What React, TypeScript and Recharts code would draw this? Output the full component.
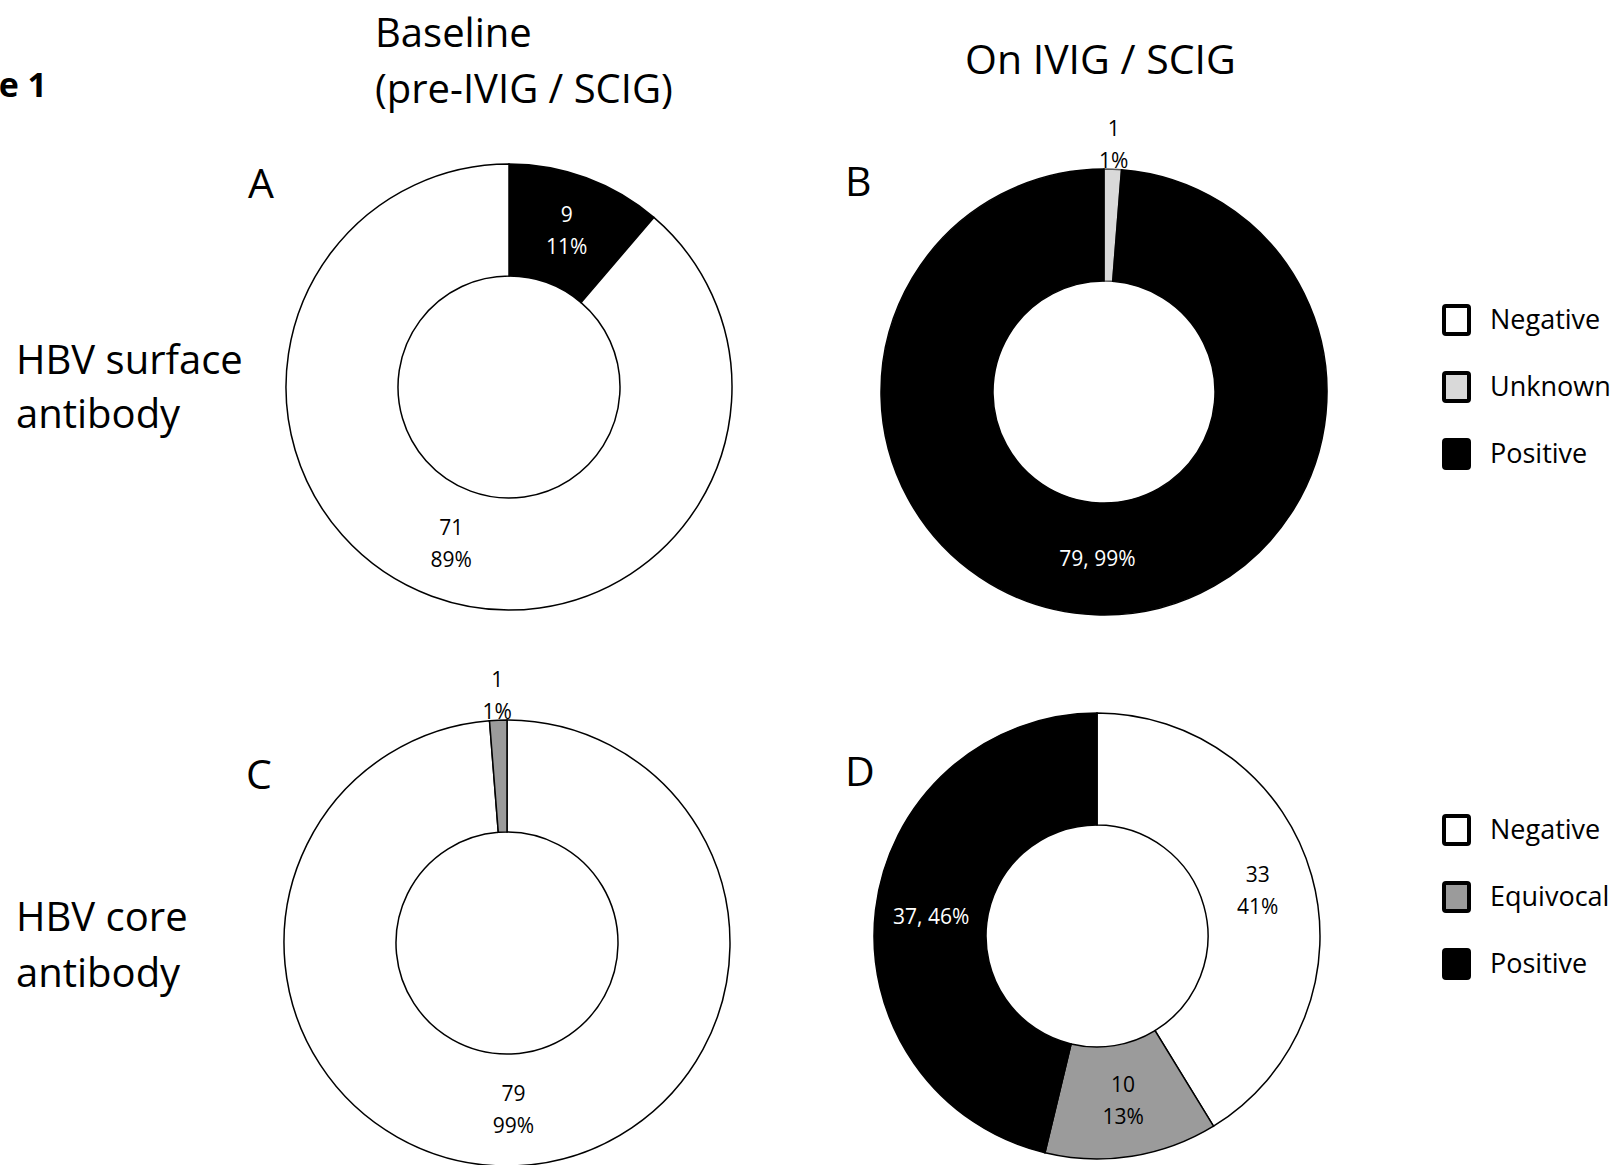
import React from 'react';
import { PieChart, Pie, Cell } from 'recharts';

// ---- data ----
const surfaceBaselineNames = ['Positive', 'Negative'];
const surfaceBaselineValues = [9, 71];

const surfaceOnTherapyNames = ['Unknown', 'Positive'];
const surfaceOnTherapyValues = [1, 79];

const coreBaselineNames = ['Negative', 'Equivocal'];
const coreBaselineValues = [79, 1];

const coreOnTherapyNames = ['Negative', 'Equivocal', 'Positive'];
const coreOnTherapyValues = [33, 10, 37];

const surfaceLegend = ['Negative', 'Unknown', 'Positive'];
const coreLegend = ['Negative', 'Equivocal', 'Positive'];

const columnTitles = [['Baseline', '(pre-IVIG / SCIG)'], ['On IVIG / SCIG']];
const rowTitles = [['HBV surface', 'antibody'], ['HBV core', 'antibody']];
const panelLetters = ['A', 'B', 'C', 'D'];

// ---- styles ----
const FONT = '"Open Sans", "DejaVu Sans", sans-serif';
const FILL: Record<string, string> = {
  Negative: '#FFFFFF',
  Unknown: '#D9D9D9',
  Equivocal: '#9B9B9B',
  Positive: '#000000',
};
const W = 1618;
const H = 1165;
const INNER = 111;
const OUTER = 223;
const RAD = Math.PI / 180;

type Panel = {
  key: string;
  cx: number;
  cy: number;
  names: string[];
  values: number[];
  inline: boolean; // dark slices use "n, p%" on one line
  edge: string;
};

const panels: Panel[] = [
  { key: 'A', cx: 509, cy: 387, names: surfaceBaselineNames, values: surfaceBaselineValues, inline: false, edge: '#000' },
  { key: 'B', cx: 1104, cy: 392, names: surfaceOnTherapyNames, values: surfaceOnTherapyValues, inline: true, edge: '#555' },
  { key: 'C', cx: 507, cy: 943, names: coreBaselineNames, values: coreBaselineValues, inline: false, edge: '#000' },
  { key: 'D', cx: 1097, cy: 936, names: coreOnTherapyNames, values: coreOnTherapyValues, inline: true, edge: '#000' },
];

const makeLabel = (panel: Panel) => (props: any) => {
  const { cx, cy, midAngle, innerRadius, outerRadius, percent, value, name } = props;
  const small = percent < 0.05;
  const r = small ? outerRadius + 25 : (innerRadius + outerRadius) / 2;
  const x = cx + r * Math.cos(-midAngle * RAD);
  const y = cy + r * Math.sin(-midAngle * RAD);
  const pct = `${Math.round(percent * 100)}%`;
  const dark = name === 'Positive';
  const color = dark ? '#FFFFFF' : '#000000';
  const fs = 21;
  if (dark && panel.inline) {
    return (
      <text x={x} y={y + 7.5} textAnchor="middle" fill={color} fontSize={fs} fontFamily={FONT}>
        {`${value}, ${pct}`}
      </text>
    );
  }
  return (
    <text x={x} y={y} textAnchor="middle" fill={color} fontSize={fs} fontFamily={FONT}>
      <tspan x={x} y={y - 8.5}>{String(value)}</tspan>
      <tspan x={x} y={y + 23.5}>{pct}</tspan>
    </text>
  );
};

const Legend = ({ items, top }: { items: string[]; top: number }) => (
  <g>
    {items.map((it, i) => {
      const cy = top + i * 67;
      return (
        <g key={it}>
          <rect x={1444} y={cy - 14} width={25} height={28} rx={2} fill={FILL[it]} stroke="#000" strokeWidth={4} />
          <text x={1490} y={cy + 9} fontSize={27} fontFamily={FONT} fill="#000">{it}</text>
        </g>
      );
    })}
  </g>
);

export default function App() {
  return (
    <div style={{ position: 'absolute', left: 0, top: 0, width: W, height: H, background: '#fff' }}>
      <PieChart width={W} height={H} margin={{ top: 0, right: 0, bottom: 0, left: 0 }}>
        {panels.map((p) => (
          <Pie
            key={p.key}
            data={p.names.map((n, i) => ({ name: n, value: p.values[i] }))}
            dataKey="value"
            nameKey="name"
            cx={p.cx}
            cy={p.cy}
            innerRadius={INNER}
            outerRadius={OUTER}
            startAngle={90}
            endAngle={-270}
            isAnimationActive={false}
            labelLine={false}
            label={makeLabel(p)}
          >
            {p.names.map((n) => (
              <Cell key={n} fill={FILL[n]} stroke={n === 'Positive' && p.key === 'B' ? '#000' : p.edge} strokeWidth={1.5} />
            ))}
          </Pie>
        ))}
      </PieChart>
      <svg width={W} height={H} style={{ position: 'absolute', left: 0, top: 0, pointerEvents: 'none' }}>
        <text x={47} y={97} textAnchor="end" fontSize={34} fontWeight="bold" fontFamily={FONT}>Figure 1</text>
        <text x={375} y={47} fontSize={40} fontFamily={FONT}>{columnTitles[0][0]}</text>
        <text x={375} y={103} fontSize={40} fontFamily={FONT}>{columnTitles[0][1]}</text>
        <text x={965} y={74} fontSize={41} fontFamily={FONT}>{columnTitles[1][0]}</text>
        <text x={16} y={374} fontSize={40} fontFamily={FONT}>{rowTitles[0][0]}</text>
        <text x={16} y={428} fontSize={40} fontFamily={FONT}>{rowTitles[0][1]}</text>
        <text x={16} y={931} fontSize={40} fontFamily={FONT}>{rowTitles[1][0]}</text>
        <text x={16} y={987} fontSize={40} fontFamily={FONT}>{rowTitles[1][1]}</text>
        <text x={248} y={198} fontSize={41} fontFamily={FONT}>{panelLetters[0]}</text>
        <text x={845} y={196} fontSize={41} fontFamily={FONT}>{panelLetters[1]}</text>
        <text x={246} y={789} fontSize={41} fontFamily={FONT}>{panelLetters[2]}</text>
        <text x={845} y={786} fontSize={41} fontFamily={FONT}>{panelLetters[3]}</text>
        <Legend items={surfaceLegend} top={320} />
        <Legend items={coreLegend} top={830} />
      </svg>
    </div>
  );
}
